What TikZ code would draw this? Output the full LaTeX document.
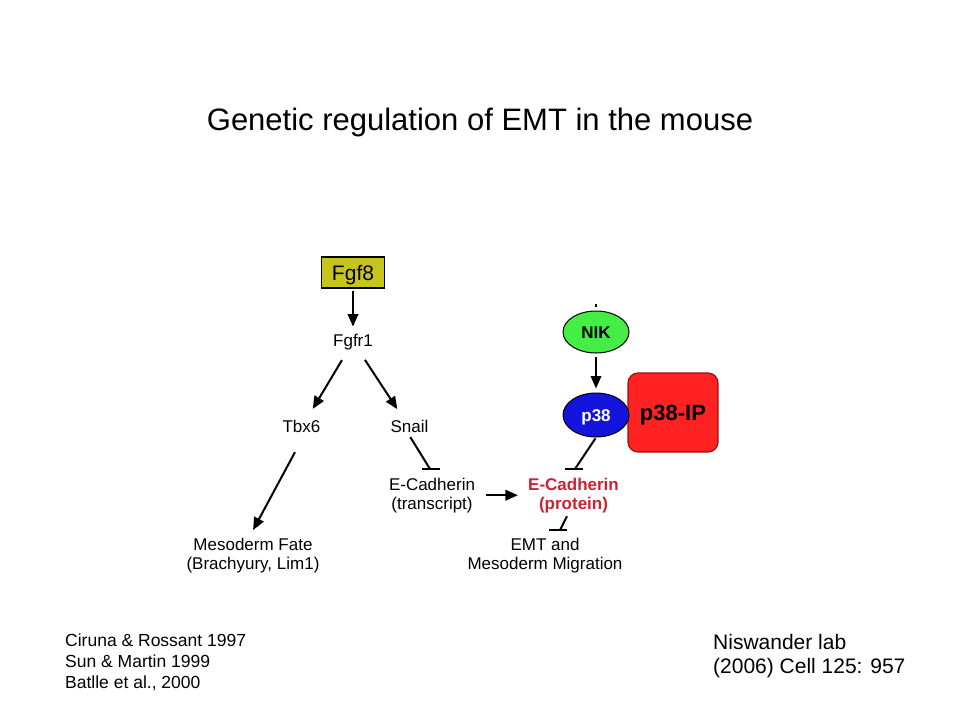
\documentclass[tikz,border=0pt]{standalone}
\usepackage{fontspec}
\setmainfont{Liberation Sans}
\usetikzlibrary{arrows.meta,shapes.geometric,calc}
\definecolor{olive8}{RGB}{200,196,30}
\definecolor{nikgreen}{RGB}{68,238,68}
\definecolor{pblue}{RGB}{20,20,220}
\definecolor{ipred}{RGB}{255,34,34}
\definecolor{ipborder}{RGB}{150,20,20}
\definecolor{ecred}{RGB}{204,34,51}
\begin{document}
\begin{tikzpicture}[x=1pt,y=-1pt,
  lbl/.style={font=\fontsize{17}{19}\selectfont, inner sep=0pt, text height=12.2pt, text depth=3.6pt, anchor=base},
  mlbl/.style={font=\fontsize{17}{19}\selectfont, inner sep=0pt, align=center, anchor=north},
  arr/.style={line width=2pt, -{Triangle[length=12.5pt,width=10.5pt]}},
  inh/.style={line width=2pt},
  ]
\useasboundingbox (0,0) rectangle (960,720);
\fill[white] (0,0) rectangle (960,720);

\node[font=\fontsize{31}{36}\selectfont, anchor=base, inner sep=0pt] (title) at (480,130) {Genetic regulation of EMT in the mouse};

\node[draw=black, line width=1.2pt, fill=olive8, minimum width=63pt, minimum height=31pt, inner sep=0pt, text height=15.3pt, text depth=0pt, font=\fontsize{21}{24}\selectfont] (fgf8) at (353,272.5) {Fgf8};

\node[lbl] (fgfr1) at (353,346) {Fgfr1};
\node[lbl] (tbx6) at (301.5,432) {Tbx6};
\node[lbl] (snail) at (409.5,432) {Snail};

\node[mlbl] (mfate) at (253,537.6) {Mesoderm Fate\\(Brachyury, Lim1)};
\node[mlbl] (ecadt) at (432,477.6) {E-Cadherin\\(transcript)};
\node[mlbl, text=ecred, font=\fontsize{17}{19}\selectfont\bfseries] (ecadp) at (573.5,477.6) {E-Cadherin\\(protein)};
\node[mlbl] (emt) at (545,537.6) {EMT and\\Mesoderm Migration};

\node[draw=ipborder, line width=1.2pt, fill=ipred, rounded corners=10pt, minimum width=90pt, minimum height=79pt, inner sep=0pt, text height=15.8pt, text depth=0pt, font=\fontsize{22}{24}\selectfont\bfseries] (p38ip) at (673,412.5) {p38-IP};
\node[ellipse, draw=black, line width=1pt, fill=nikgreen, minimum width=66pt, minimum height=42pt, inner sep=0pt, text height=12.2pt, text depth=0pt, font=\fontsize{17}{19}\selectfont\bfseries] (nik) at (596,332) {NIK};
\node[ellipse, draw=black, line width=1pt, fill=pblue, text=white, minimum width=66pt, minimum height=44pt, inner sep=0pt, text height=12.2pt, text depth=0pt, font=\fontsize{17}{19}\selectfont\bfseries] (p38) at (596,415) {p38};

% activation arrows
\draw[arr, shorten <=2pt, shorten >=7pt] (fgf8) -- (fgfr1);
\draw[arr, shorten <=12pt, shorten >=12.5pt] (fgfr1) -- (tbx6);
\draw[arr, shorten <=12pt, shorten >=12.5pt] (fgfr1) -- (snail);
\draw[arr, shorten <=18.6pt, shorten >=8.6pt] ([xshift=2.3pt]tbx6.south) -- ([xshift=-4pt]mfate.north);
\draw[arr, shorten <=11pt, shorten >=10pt] (ecadt.east) -- (ecadp.west);
\draw[arr, shorten <=3pt, shorten >=4pt] (nik) -- (p38);

% inhibition connectors
\coordinate (sbar) at ($(ecadt.north)+(-2,-8.6)$);
\draw[inh, shorten <=1.5pt] (snail.south) -- (sbar);
\draw[inh] ([xshift=-8pt]sbar) -- ([xshift=10pt]sbar);

\coordinate (pbar) at ($(ecadp.north)+(1.5,-8.6)$);
\draw[inh, shorten <=1pt] (p38.south) -- (pbar);
\draw[inh] ([xshift=-10pt]pbar) -- ([xshift=8pt]pbar);

\coordinate (estart) at ($(ecadp.south)+(-6.5,3.4)$);
\coordinate (ebar) at ($(emt.north)+(15,-7.6)$);
\draw[inh] (estart) -- (ebar);
\draw[inh] ([xshift=-11pt]ebar) -- ([xshift=7pt]ebar);

% small tick above NIK
\coordinate (tick) at ($(nik.north)+(0,-4)$);
\draw[line width=1.5pt] (tick) -- ++(0,-3);

% references
\node[anchor=north west, inner sep=0pt, align=left, font=\fontsize{17.5}{21}\selectfont] (refs) at (65,634) {Ciruna \& Rossant 1997\\Sun \& Martin 1999\\Batlle et al., 2000};
\node[anchor=north west, inner sep=0pt, align=left, font=\fontsize{21}{24}\selectfont] (cite) at (713,634) {Niswander lab\\(2006) Cell 125: 957};
\end{tikzpicture}
\end{document}
